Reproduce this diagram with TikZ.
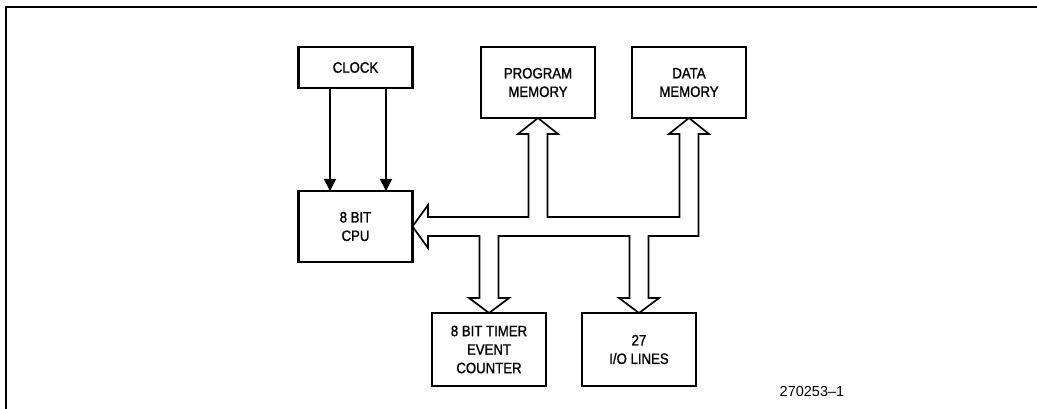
\documentclass[tikz,border=0pt]{standalone}
\usepackage{fontspec}
\setmainfont{Liberation Sans}
\newfontfamily\boxfont{Liberation Sans}[FakeStretch=0.88, FakeBold=1.2]
\usetikzlibrary{arrows.meta, positioning}
\tikzset{
  block/.style={draw, line width=2.8pt, outer sep=0pt, minimum width=114pt,
    align=center, font=\boxfont\fontsize{15}{18.5}\selectfont}, % the boxes
  bus/.style={draw, line width=1.7pt, line join=miter}, % the wide bus arrows
  clk/.style={line width=1.8pt, -{Triangle[length=12pt, width=12pt]}}, % clock lines
}
\begin{document}
\begin{tikzpicture}[x=1pt, y=-1pt]
  \useasboundingbox (0,0) rectangle (1037,409);
  % frame (top and left only)
  \draw[line width=1.6pt] (1037,7) -- (6,7) -- (6,409);

  \node[block, minimum height=41pt] (clock) at (355.5,67.5) {CLOCK};
  \node[block, minimum height=71pt, below of=clock, node distance=159pt] (cpu) {8 BIT\\CPU};
  \node[block, minimum height=71pt] (prog) at (538,82.5) {PROGRAM\\MEMORY};
  \node[block, minimum height=71pt, right of=prog, node distance=151pt] (data) {DATA\\MEMORY};
  \node[block, minimum height=73pt] (timer) at (489,349.5) {8 BIT TIMER\\EVENT\\COUNTER};
  \node[block, minimum height=73pt, right of=timer, node distance=150pt] (io) {27\\I/O LINES};

  \draw[clk] ([xshift=-25.5pt]clock.south) -- ([xshift=-25.5pt]cpu.north);
  \draw[clk] ([xshift=30.5pt]clock.south) -- ([xshift=30.5pt]cpu.north);

  % the bus
  \draw[bus] (cpu.east) -- (428,205) -- (428,217) -- (528.5,217) -- (528.5,134)
    -- (518,134) -- (prog.south) -- (558,134) -- (547.5,134) -- (547.5,217)
    -- (679.5,217) -- (679.5,134) -- (669,134) -- (data.south) -- (709,134)
    -- (698.5,134) -- (698.5,236) -- (648.5,236) -- (648.5,298) -- (659,298)
    -- (io.north) -- (619,298) -- (629.5,298) -- (629.5,236) -- (498.5,236)
    -- (498.5,298) -- (509,298) -- (timer.north) -- (469,298) -- (479.5,298)
    -- (479.5,236) -- (428,236) -- (428,248) -- cycle;

  \node[font=\fontsize{14.5}{16}\selectfont] (fignum) at (812,392) {270253--1};
\end{tikzpicture}
\end{document}
